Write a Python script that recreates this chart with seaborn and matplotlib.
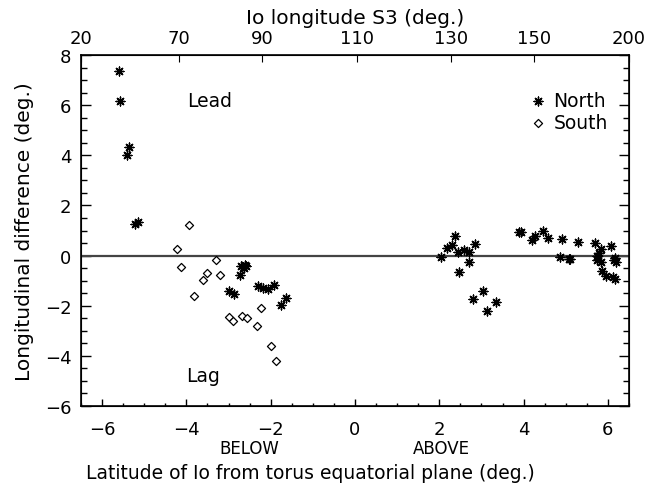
import matplotlib
matplotlib.use('Agg')
import matplotlib.pyplot as plt
import seaborn as sns
from matplotlib.ticker import MultipleLocator

# North points (asterisks): latitude of Io vs longitudinal difference
north_lat = [-5.61, -5.57, -5.35, -5.42, -5.15, -5.22,
             -2.70, -2.61, -2.64, -2.58, -2.72, -2.98, -2.86, -2.30, -2.19, -2.07, -1.91, -1.76, -1.63,
             2.05, 2.19, 2.30, 2.38, 2.45, 2.58, 2.71, 2.84, 2.71, 2.46, 3.03, 2.81, 3.34, 3.12,
             3.93, 3.89, 4.20, 4.28, 4.47, 4.58, 4.92, 5.30, 4.86, 5.11, 5.07, 5.69, 5.83, 5.79,
             5.75, 5.73, 5.83, 5.87, 5.96, 6.08, 6.14, 6.18, 6.17, 6.16, 6.13]
north_dlon = [7.35, 6.16, 4.32, 4.00, 1.34, 1.27,
              -0.43, -0.36, -0.48, -0.40, -0.77, -1.41, -1.53, -1.23, -1.31, -1.33, -1.16, -1.97, -1.71,
              -0.07, 0.31, 0.44, 0.78, 0.16, 0.24, 0.16, 0.45, -0.27, -0.64, -1.43, -1.73, -1.84, -2.20,
              0.94, 0.96, 0.64, 0.80, 0.98, 0.71, 0.67, 0.53, -0.07, -0.13, -0.13, 0.49, 0.27, 0.11,
              -0.03, -0.16, -0.24, -0.60, -0.83, 0.37, -0.16, -0.27, -0.08, -0.93, -0.87]

# South points (diamonds)
south_lat = [-3.93, -4.22, -4.13, -3.30, -3.52, -3.61, -3.21, -3.82,
             -3.00, -2.90, -2.67, -2.57, -2.23, -2.33, -1.99, -1.88]
south_dlon = [1.23, 0.27, -0.44, -0.19, -0.69, -0.97, -0.77, -1.63,
              -2.45, -2.60, -2.43, -2.48, -2.10, -2.80, -3.61, -4.21]

# top axis: Io longitude S3 labels and their latitude positions
top_pos = [-6.5, -4.18, -2.2, 0.05, 2.28, 4.25, 6.5]
top_labels = ['20', '70', '90', '110', '130', '150', '200']

sns.set_style('ticks')
plt.rcParams['font.family'] = ['DejaVu Sans']
plt.rcParams['font.size'] = 13
plt.rcParams['text.color'] = 'black'
plt.rcParams['axes.labelcolor'] = 'black'
plt.rcParams['xtick.color'] = 'black'
plt.rcParams['ytick.color'] = 'black'
plt.rcParams['axes.edgecolor'] = 'black'

fig = plt.figure(figsize=(6.45, 4.89), dpi=100)
ax = fig.add_axes([81 / 645, 1 - 407 / 489, 548 / 645, 351 / 489])

ax.axhline(0, color='#444444', lw=1.6, zorder=1)

sns.scatterplot(x=north_lat, y=north_dlon, ax=ax, marker=(8, 2, 0), s=40,
                color='black', linewidth=1.0, label='North', zorder=3)
sns.scatterplot(x=south_lat, y=south_dlon, ax=ax, marker='D', s=17,
                color='white', edgecolor='black', linewidth=0.9, label='South', zorder=3)

ax.set_xlim(-6.5, 6.5)
ax.set_ylim(-6, 8)
ax.xaxis.set_major_locator(MultipleLocator(2))
ax.xaxis.set_minor_locator(MultipleLocator(0.5))
ax.yaxis.set_major_locator(MultipleLocator(2))
ax.yaxis.set_minor_locator(MultipleLocator(0.5))
ax.tick_params(which='both', direction='in', right=True, top=False, width=1, labelsize=13)
ax.tick_params(axis='x', which='major', length=5, pad=10)
ax.tick_params(axis='x', which='minor', length=2.5)
ax.tick_params(axis='y', which='major', length=7.5, pad=7)
ax.tick_params(axis='y', which='minor', length=4)
ax.set_xticklabels([str(int(v)).replace('-', '\u2212') for v in ax.get_xticks()])
for sp in ax.spines.values():
    sp.set_linewidth(1.2)

ax.set_ylabel('Longitudinal difference (deg.)', fontsize=14.5, labelpad=8)
fig.text(310 / 645, 1 - 474 / 489, 'Latitude of Io from torus equatorial plane (deg.)',
         ha='center', va='center', fontsize=13.5)
ax.text(-2.5, -0.12, 'BELOW', transform=ax.get_xaxis_transform(), ha='center', va='center', fontsize=12)
ax.text(2.05, -0.12, 'ABOVE', transform=ax.get_xaxis_transform(), ha='center', va='center', fontsize=12)
ax.text(-3.44, 6.2, 'Lead', ha='center', va='center', fontsize=13.5)
ax.text(-3.6, -4.8, 'Lag', ha='center', va='center', fontsize=13.5)

ax.legend(loc='upper right', bbox_to_anchor=(0.975, 0.92), frameon=False,
          handlelength=0.6, handletextpad=0.5, labelspacing=0.2, borderaxespad=0,
          fontsize=13.5)

ax2 = ax.twiny()
ax2.set_xlim(ax.get_xlim())
ax2.set_xticks(top_pos)
ax2.set_xticklabels(top_labels)
ax2.tick_params(direction='in', length=5, labelsize=13, pad=6, colors='black')
ax2.set_xlabel('Io longitude S3 (deg.)', fontsize=14.5, labelpad=4)

fig.savefig('out.png', dpi=100)
